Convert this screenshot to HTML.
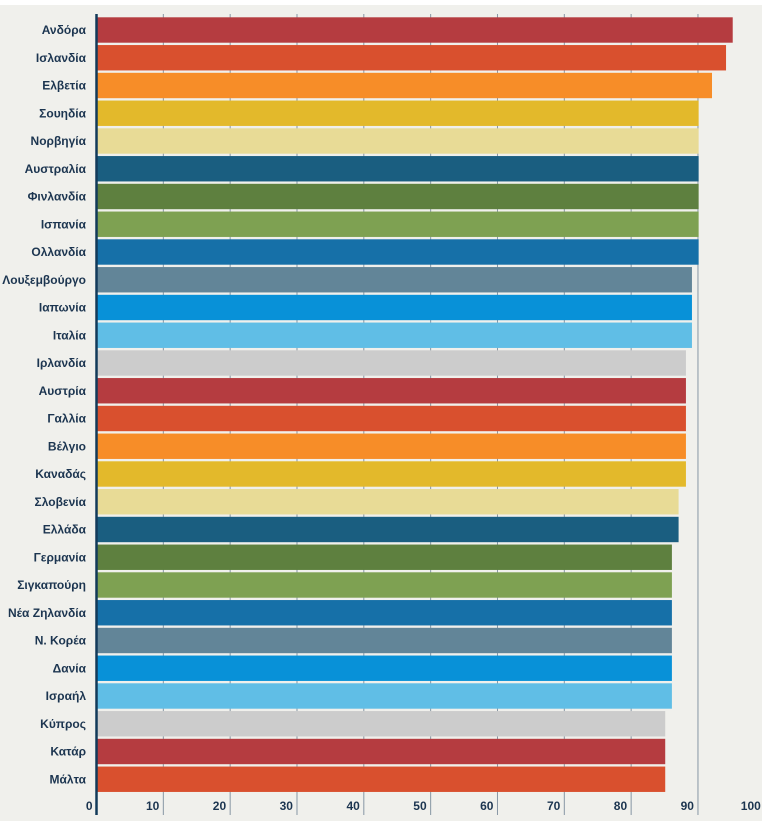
<!DOCTYPE html>
<html><head><meta charset="utf-8"><style>
body{margin:0;background:#fff;width:762px;height:821px;overflow:hidden}
svg{display:block}
text{font-family:"Liberation Sans",sans-serif;font-weight:bold;font-size:12px;fill:#1c3550}
</style></head><body>
<svg id="chart" width="762" height="821" xmlns="http://www.w3.org/2000/svg">
<rect x="0" y="5" width="762" height="816" fill="#f0f0ec"/>
<g id="grid"></g><g id="bars"></g><g id="labels"></g><g id="ticks"></g>
<line x1="96.5" y1="14" x2="96.5" y2="815" stroke="#123a5a" stroke-width="2.5"/>
</svg>
<script>
const categories=["Ανδόρα","Ισλανδία","Ελβετία","Σουηδία","Νορβηγία","Αυστραλία","Φινλανδία","Ισπανία","Ολλανδία","Λουξεμβούργο","Ιαπωνία","Ιταλία","Ιρλανδία","Αυστρία","Γαλλία","Βέλγιο","Καναδάς","Σλοβενία","Ελλάδα","Γερμανία","Σιγκαπούρη","Νέα Ζηλανδία","Ν. Κορέα","Δανία","Ισραήλ","Κύπρος","Κατάρ","Μάλτα"];
const values=[95.2,94.2,92.1,90.1,90.1,90.1,90.1,90.1,90.1,89.1,89.1,89.1,88.2,88.2,88.2,88.2,88.2,87.1,87.1,86.1,86.1,86.1,86.1,86.1,86.1,85.1,85.1,85.1];
const tickLabels=[0,10,20,30,40,50,60,70,80,90,100];
const palette=["#b53c40","#d9502e","#f78d28","#e3b92b","#e8db96","#1a5e80","#5e803f","#7ea152","#1670a8","#628598","#0891d8","#60bee6","#cccccc"];
const NS="http://www.w3.org/2000/svg";
const x0=96.5,scale=6.683,top0=17.3,pitch=27.75,bh=25.4;
const xs=v=>x0+v*scale;
function mk(t,a,p){const e=document.createElementNS(NS,t);for(const k in a)e.setAttribute(k,a[k]);p.appendChild(e);return e;}
const grid=document.getElementById('grid'),bars=document.getElementById('bars'),labels=document.getElementById('labels'),ticks=document.getElementById('ticks');
tickLabels.forEach(t=>{
  if(t>0&&t<100){const l=mk('line',{x1:xs(t),x2:xs(t),y1:14,y2:815,stroke:'#8796a4','stroke-width':1},grid);
  
  }
  const tx=mk('text',{x:xs(t)-4,y:810,'text-anchor':'end'},ticks);tx.textContent=t;
  
  
});
categories.forEach((c,i)=>{
  const y=top0+i*pitch;
  const r=mk('rect',{x:x0,y:y,width:xs(values[i])-x0,height:bh,fill:palette[i%13]},bars);
  
  
  const t=mk('text',{x:86,y:y+bh/2+4,'text-anchor':'end'},labels);t.textContent=c;
  
  
});
</script>
</body></html>
